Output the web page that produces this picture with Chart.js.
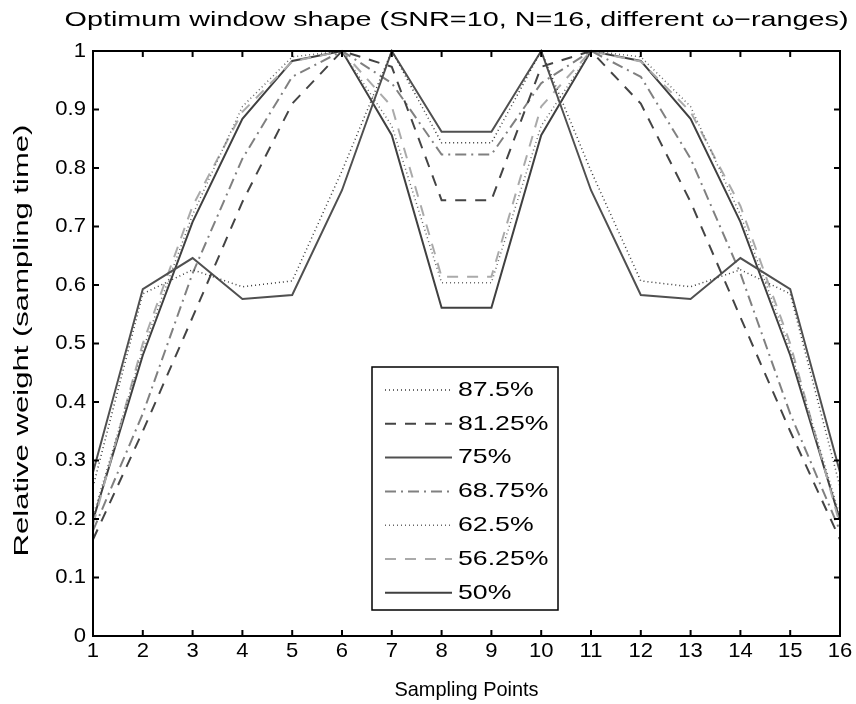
<!DOCTYPE html>
<html lang="en">
<head>
  <meta charset="UTF-8" />
  <title>Optimum window shape</title>
  <script src="https://cdn.jsdelivr.net/npm/chart.js"></script>
  <style>
    html, body { margin: 0; padding: 0; background: #fff; }
    canvas { display: block; }
  </style>
</head>
<body>
  <canvas id="windowChart" width="856" height="704"></canvas>

  <script>
    // x categories and tick labels
    const samplePoints = ['1', '2', '3', '4', '5', '6', '7', '8', '9', '10', '11', '12', '13', '14', '15', '16'];
    const yTickLabels = ['0', '0.1', '0.2', '0.3', '0.4', '0.5', '0.6', '0.7', '0.8', '0.9', '1'];
    const seriesNames = ['87.5%', '81.25%', '75%', '68.75%', '62.5%', '56.25%', '50%'];

    // relative weights (symmetric windows)
    const w875  = [0.255, 0.585, 0.626, 0.597, 0.607, 0.795, 1.0, 0.843, 0.843, 1.0, 0.795, 0.607, 0.597, 0.626, 0.585, 0.255];
    const w8125 = [0.165, 0.350, 0.545, 0.742, 0.910, 1.0, 0.973, 0.745, 0.745, 0.973, 1.0, 0.910, 0.742, 0.545, 0.350, 0.165];
    const w75   = [0.280, 0.593, 0.646, 0.576, 0.583, 0.762, 1.0, 0.862, 0.862, 1.0, 0.762, 0.583, 0.576, 0.646, 0.593, 0.280];
    const w6875 = [0.180, 0.380, 0.620, 0.816, 0.956, 1.0, 0.945, 0.823, 0.823, 0.945, 1.0, 0.956, 0.816, 0.620, 0.380, 0.180];
    const w625  = [0.205, 0.490, 0.720, 0.905, 0.990, 1.0, 0.872, 0.604, 0.604, 0.872, 1.0, 0.990, 0.905, 0.720, 0.490, 0.205];
    const w5625 = [0.190, 0.500, 0.735, 0.896, 0.982, 1.0, 0.905, 0.614, 0.614, 0.905, 1.0, 0.982, 0.896, 0.735, 0.500, 0.190];
    const w50   = [0.198, 0.480, 0.708, 0.884, 0.983, 1.0, 0.856, 0.561, 0.561, 0.856, 1.0, 0.983, 0.884, 0.708, 0.480, 0.198];

    const seriesValues = [w875, w8125, w75, w6875, w625, w5625, w50];

    // matlab-ish line styles, one per series
    const lineStyles = [
      { color: '#3a3a3a', dash: [1, 3], width: 1.5 },
      { color: '#444444', dash: [11, 9], width: 2 },
      { color: '#505050', dash: [], width: 2 },
      { color: '#808080', dash: [11, 5, 2, 5], width: 2 },
      { color: '#666666', dash: [1, 3], width: 1.5 },
      { color: '#aaaaaa', dash: [11, 9], width: 2 },
      { color: '#404040', dash: [], width: 2 }
    ];

    // the reference text is rendered wider than Arial, by a different amount per element
    const TXT = {
      tick:   { size: 21, sx: 1.05 },
      legend: { size: 21, sx: 1.27 },
      title:  { size: 21, sx: 1.37 },
      ylab:   { size: 21, sx: 1.48 },
      xlab:   { size: 21, sx: 0.95 }
    };

    function wideText(ctx, str, x, y, kind, align, baseline, angle) {
      const f = TXT[kind];
      ctx.save();
      ctx.translate(x, y);
      if (angle) ctx.rotate(angle);
      ctx.scale(f.sx, 1);
      ctx.font = f.size + 'px "Liberation Sans", Arial, sans-serif';
      ctx.fillStyle = '#000';
      ctx.textAlign = align;
      ctx.textBaseline = baseline;
      ctx.fillText(str, 0, 0);
      ctx.restore();
    }

    const matlabAxes = {
      id: 'matlabAxes',
      afterDraw(chart) {
        const { ctx, chartArea: a, scales: { x, y } } = chart;
        const tick = 6;

        ctx.save();
        ctx.strokeStyle = '#000';
        ctx.lineWidth = 2;
        ctx.setLineDash([]);
        ctx.strokeRect(a.left, a.top, a.right - a.left, a.bottom - a.top);

        ctx.beginPath();
        x.ticks.forEach((t, i) => {
          const px = x.getPixelForTick(i);
          ctx.moveTo(px, a.bottom); ctx.lineTo(px, a.bottom - tick);
          ctx.moveTo(px, a.top); ctx.lineTo(px, a.top + tick);
        });
        y.ticks.forEach(t => {
          const py = y.getPixelForValue(t.value);
          ctx.moveTo(a.left, py); ctx.lineTo(a.left + tick, py);
          ctx.moveTo(a.right, py); ctx.lineTo(a.right - tick, py);
        });
        ctx.stroke();
        ctx.restore();

        x.ticks.forEach((t, i) => {
          wideText(ctx, samplePoints[i], x.getPixelForTick(i), a.bottom + 5, 'tick', 'center', 'top');
        });
        y.ticks.forEach(t => {
          const idx = Math.round(t.value * 10);
          wideText(ctx, yTickLabels[idx], a.left - 7, y.getPixelForValue(t.value), 'tick', 'right', 'middle');
        });

        const cx = (a.left + a.right) / 2;
        wideText(ctx, 'Optimum window shape (SNR=10, N=16, different \u03c9\u2212ranges)', cx - 10, 20, 'title', 'center', 'middle');
        wideText(ctx, 'Sampling Points', cx, 690, 'xlab', 'center', 'middle');
        wideText(ctx, 'Relative weight (sampling time)', 22, (a.top + a.bottom) / 2 - 3, 'ylab', 'center', 'middle', -Math.PI / 2);

        // legend box
        const lx = 372, ly = 367, lw = 186, lh = 243, row = 33.8;
        ctx.save();
        ctx.fillStyle = '#fff';
        ctx.fillRect(lx, ly, lw, lh);
        ctx.strokeStyle = '#000';
        ctx.lineWidth = 1.5;
        ctx.strokeRect(lx, ly, lw, lh);
        ctx.restore();

        seriesNames.forEach((name, i) => {
          const st = lineStyles[i];
          const yy = ly + 23 + i * row;
          ctx.save();
          ctx.strokeStyle = st.color;
          ctx.lineWidth = st.width;
          ctx.setLineDash(st.dash);
          ctx.beginPath();
          ctx.moveTo(lx + 13, yy);
          ctx.lineTo(lx + 80, yy);
          ctx.stroke();
          ctx.restore();
          wideText(ctx, name, lx + 86, yy, 'legend', 'left', 'middle');
        });
      }
    };

    const ctx = document.getElementById('windowChart').getContext('2d');
    new Chart(ctx, {
      type: 'line',
      data: {
        labels: samplePoints,
        datasets: seriesNames.map((name, i) => ({
          label: name,
          data: seriesValues[i],
          borderColor: lineStyles[i].color,
          borderDash: lineStyles[i].dash,
          borderWidth: lineStyles[i].width,
          pointRadius: 0,
          fill: false,
          tension: 0,
          clip: 6
        }))
      },
      options: {
        responsive: false,
        animation: false,
        devicePixelRatio: 1,
        layout: { padding: { top: 51, right: 16, left: 0, bottom: 0 } },
        plugins: {
          legend: { display: false },
          title: { display: false },
          tooltip: { enabled: false }
        },
        scales: {
          x: {
            grid: { display: false, drawTicks: false },
            border: { display: false },
            ticks: { display: false },
            afterFit: s => { s.height = 68; }
          },
          y: {
            min: 0,
            max: 1,
            grid: { display: false, drawTicks: false },
            border: { display: false },
            ticks: { display: false, stepSize: 0.1 },
            afterFit: s => { s.width = 93; }
          }
        }
      },
      plugins: [matlabAxes]
    });
  </script>
</body>
</html>
